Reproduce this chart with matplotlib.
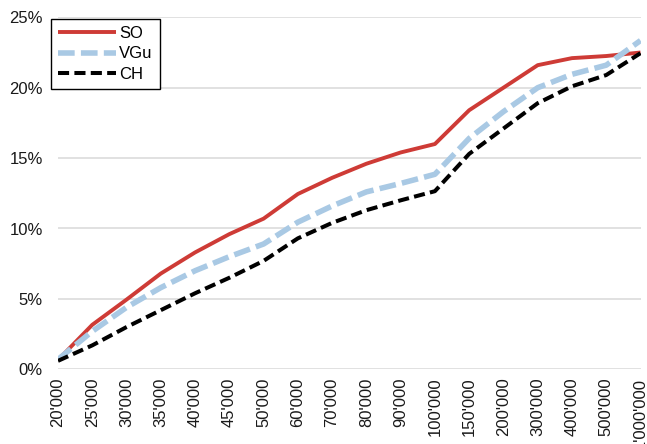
import matplotlib
matplotlib.use("Agg")
import matplotlib.pyplot as plt
from matplotlib.ticker import PercentFormatter

plt.rcParams['font.family'] = ['Liberation Sans', 'DejaVu Sans']
plt.rcParams['lines.scale_dashes'] = False

categories = ["20'000", "25'000", "30'000", "35'000", "40'000", "45'000", "50'000",
              "60'000", "70'000", "80'000", "90'000", "100'000", "150'000", "200'000",
              "300'000", "400'000", "500'000", "1'000'000"]
so = [0.66, 3.16, 4.95, 6.8, 8.3, 9.6, 10.7, 12.45, 13.6, 14.6, 15.4, 16.0,
      18.4, 20.0, 21.6, 22.1, 22.25, 22.5]
vgu = [0.7, 2.7, 4.4, 5.8, 7.0, 8.0, 8.9, 10.45, 11.6, 12.6, 13.2, 13.85,
       16.4, 18.3, 20.0, 20.95, 21.6, 23.35]
ch = [0.6, 1.7, 3.0, 4.2, 5.4, 6.5, 7.7, 9.3, 10.4, 11.3, 12.0, 12.65,
      15.3, 17.1, 18.9, 20.1, 20.9, 22.45]
series_names = ["SO", "VGu", "CH"]
yticks = [0, 5, 10, 15, 20, 25]

W, H = 647, 444
fig = plt.figure(figsize=(W / 100, H / 100), dpi=100)
ax = fig.add_axes([58 / W, 1 - 369.3 / H, (640.5 - 58) / W, (369.3 - 17.3) / H])

x = list(range(len(categories)))
ax.plot(x, so, color='#CE3B36', lw=2.8, label=series_names[0], solid_capstyle='butt', zorder=3)
ax.plot(x, vgu, color='#A9C9E4', lw=4.0, label=series_names[1], dashes=(12, 4.5), zorder=4)
ax.plot(x, ch, color='black', lw=2.9, label=series_names[2], dashes=(8, 3.8), zorder=5)

ax.set_xlim(0, len(categories) - 1)
ax.set_ylim(0, 25)
ax.set_yticks(yticks)
ax.yaxis.set_major_formatter(PercentFormatter(decimals=0))
ax.set_xticks(x)
ax.set_xticklabels(categories, rotation=90, va='top', ha='center')
ax.grid(axis='y', color='#D9D9D9', lw=1.1)
ax.set_axisbelow(True)
for s in ax.spines.values():
    s.set_visible(False)
ax.tick_params(axis='both', length=0, labelsize=12, colors='#1a1a1a')
ax.tick_params(axis='y', pad=11)
ax.tick_params(axis='x', pad=6)

leg = fig.legend(loc='upper left', bbox_to_anchor=(51 / W, 1 - 19 / H), borderaxespad=0,
                 fontsize=12, handlelength=3.5, handletextpad=0.2, labelspacing=0.35,
                 borderpad=0.4, fancybox=False, framealpha=1, edgecolor='black')
leg.get_frame().set_linewidth(1.0)

fig.savefig('out.png', dpi=100)
